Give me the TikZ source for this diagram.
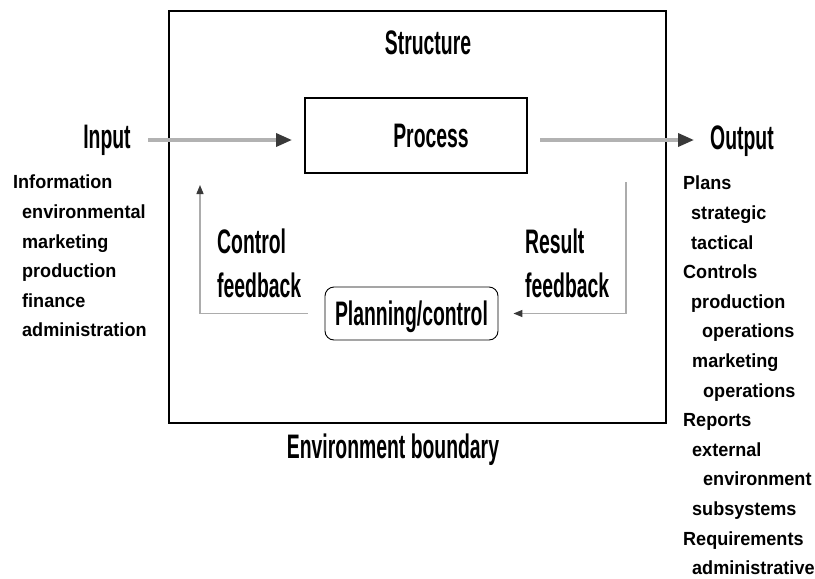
\documentclass[tikz,border=0pt]{standalone}
\usepackage{fontspec}
\setmainfont{Liberation Sans}
\newfontfamily\headfont[FakeStretch=0.57]{Liberation Sans}
\newfontfamily\itemfont[FakeStretch=0.95]{Liberation Sans}
\usetikzlibrary{arrows.meta}
\begin{document}
\begin{tikzpicture}[x=1pt, y=-1pt,
  head/.style={inner sep=0, text height=24pt, text depth=0pt, font={\headfont\bfseries\fontsize{34}{40}\selectfont}},
  item/.style={inner sep=0, anchor=west, text height=13.6pt, text depth=0pt, font={\itemfont\bfseries\fontsize{19}{23}\selectfont}},
  boundary/.style={draw, line width=2pt, minimum width=497pt, minimum height=412pt, inner sep=0},
  procbox/.style={draw, line width=1.5pt, minimum width=222pt, minimum height=75pt, inner sep=0},
  planbox/.style={draw, line width=0.9pt, rounded corners=9pt, minimum width=173pt, minimum height=53pt, inner sep=0},
  bigarrow/.style={-{Triangle[length=16pt, width=13pt, color=gray!45!black]}, line width=3.5pt, draw=gray!60},
  thinarrow/.style={-{Triangle[length=9pt, width=7pt, color=gray!45!black]}, line width=1.3pt, draw=gray!65}
]
\useasboundingbox (0,0) rectangle (815,579);
\node[boundary] (env) at (417.5,217) {};
\node[procbox] (process) at (416,135.5) {};
\node[head] (proclabel) at (431,135) {Process};
\node[head] (structure) at (428,42) {Structure};
\node[head] (input) at (107,136) {Input};
\node[head, anchor=west] (output) at (710,137) {Output};
\node[planbox, head] (plan) at (411.5,313.5) {Planning/control};
\node[head, anchor=west] (ctl1) at (217,241) {Control};
\node[head, anchor=west] (ctl2) at (217,285) {feedback};
\node[head, anchor=west] (res1) at (525,241) {Result};
\node[head, anchor=west] (res2) at (525,285) {feedback};
\node[head] (boundary) at (393,446) {Environment boundary};
\coordinate (in start) at (148,140);
\coordinate (in end) at (292,140);
\coordinate (out start) at (540,140);
\coordinate (out end) at (694,140);
\coordinate (res top) at (626,182);
\coordinate (ctl top) at (200,185);
\draw[bigarrow] (in start) -- (in end);
\draw[bigarrow] (out start) -- (out end);
\draw[thinarrow] (res top) |- ([xshift=15pt]plan.east);
\draw[thinarrow] ([xshift=-17pt]plan.west) -| (ctl top);
\foreach \x/\y/\t in {13/182/Information, 22/211.6/environmental, 22/241.2/marketing,
    22/270.8/production, 22/300.4/finance, 22/330/administration}
  \node[item] (in\y) at (\x,\y) {\t};
\foreach \x/\y/\t in {683/183/Plans, 691/212.6/strategic, 691/242.2/tactical,
    683/271.8/Controls, 691/301.4/production, 702/331/operations,
    692/360.6/marketing, 703/390.2/operations, 683/419.8/Reports,
    692/449.4/external, 703/479/environment, 692/508.6/subsystems,
    683/538.2/Requirements, 692/567.8/administrative}
  \node[item] (out\y) at (\x,\y) {\t};
\end{tikzpicture}
\end{document}
